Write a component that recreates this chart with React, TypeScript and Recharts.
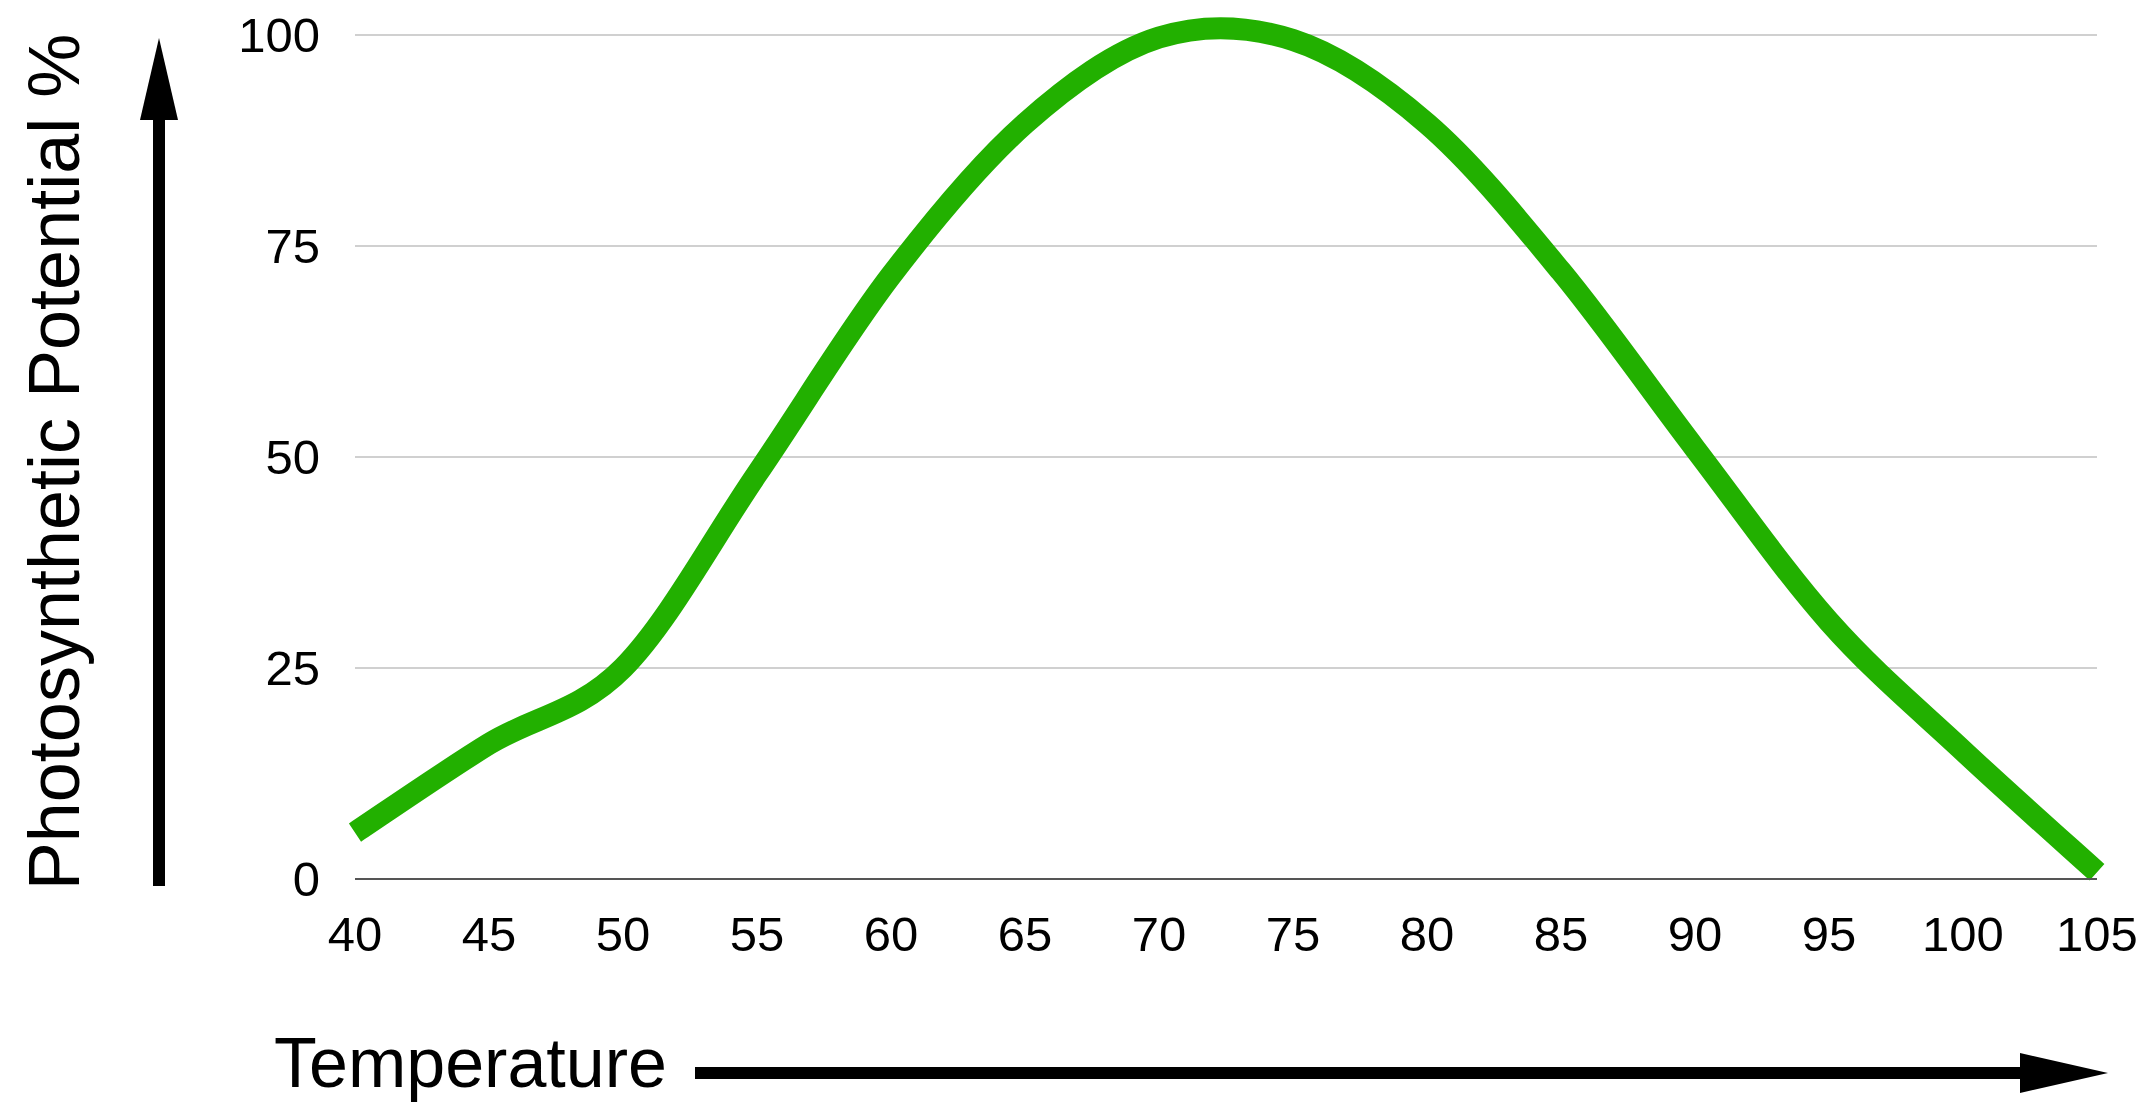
import React from "react";
import { LineChart, Line, XAxis, YAxis, CartesianGrid, Customized } from "recharts";

const temperatures = [40, 45, 50, 55, 60, 65, 70, 75, 80, 85, 90, 95, 100, 105];
const potential = [5.5, 16, 25, 48, 71.5, 89.5, 99.7, 99.4, 89.5, 72, 51, 30.5, 15.2, 0.8];
const xTicks = [40, 45, 50, 55, 60, 65, 70, 75, 80, 85, 90, 95, 100, 105];
const yTicks = [0, 25, 50, 75, 100];

const data = temperatures.map((t, i) => ({ t, v: potential[i] }));

const FONT = '"Liberation Sans", Arial, Helvetica, sans-serif';

// Catmull-Rom style curve factory
function catmullRom(context: any) {
  let pts: number[][] = [];
  return {
    areaStart() {},
    areaEnd() {},
    lineStart() {
      pts = [];
    },
    point(x: number, y: number) {
      pts.push([+x, +y]);
    },
    lineEnd() {
      if (!pts.length) return;
      context.moveTo(pts[0][0], pts[0][1]);
      for (let i = 0; i < pts.length - 1; i++) {
        const p0 = pts[i - 1] || pts[i];
        const p1 = pts[i];
        const p2 = pts[i + 1];
        const p3 = pts[i + 2] || p2;
        const c1x = p1[0] + (p2[0] - p0[0]) / 6;
        const c1y = p1[1] + (p2[1] - p0[1]) / 6;
        const c2x = p2[0] - (p3[0] - p1[0]) / 6;
        const c2y = p2[1] - (p3[1] - p1[1]) / 6;
        context.bezierCurveTo(c1x, c1y, c2x, c2y, p2[0], p2[1]);
      }
    },
  };
}

const Decorations = () => (
  <g>
    <rect x={153} y={115} width={12} height={771} fill="#000" />
    <polygon points="140,120 178,120 159,38" fill="#000" />
    <rect x={695} y={1067} width={1330} height={12} fill="#000" />
    <polygon points="2020,1053 2020,1093 2108,1073" fill="#000" />
    <text
      x={79}
      y={462}
      transform="rotate(-90, 79, 462)"
      textAnchor="middle"
      fontSize={72}
      fontFamily={FONT}
      fill="#000"
    >
      Photosynthetic Potential %
    </text>
    <text x={274} y={1087} textAnchor="start" fontSize={70} fontFamily={FONT} fill="#000">
      Temperature
    </text>
  </g>
);

export default function App() {
  return (
    <div style={{ position: "absolute", left: 0, top: 0, width: 2145, height: 1107, background: "#fff" }}>
      <LineChart
        width={2145}
        height={1107}
        data={data}
        margin={{ top: 35, right: 48, bottom: 0, left: 0 }}
      >
        <CartesianGrid horizontal vertical={false} stroke="#d0d0d0" strokeWidth={2} />
        <XAxis
          dataKey="t"
          type="number"
          domain={[40, 105]}
          ticks={xTicks}
          interval={0}
          height={228}
          tickLine={false}
          tickSize={0}
          tickMargin={37}
          axisLine={{ stroke: "#555", strokeWidth: 2 }}
          tick={{ fill: "#000", fontSize: 49, fontFamily: FONT }}
        />
        <YAxis
          type="number"
          domain={[0, 100]}
          ticks={yTicks}
          interval={0}
          width={355}
          tickLine={false}
          tickSize={0}
          tickMargin={35}
          axisLine={false}
          tick={{ fill: "#000", fontSize: 49, fontFamily: FONT }}
        />
        <Line
          dataKey="v"
          type={catmullRom as any}
          stroke="#22b000"
          strokeWidth={22}
          dot={false}
          activeDot={false}
          isAnimationActive={false}
        />
        <Customized component={Decorations} />
      </LineChart>
    </div>
  );
}
